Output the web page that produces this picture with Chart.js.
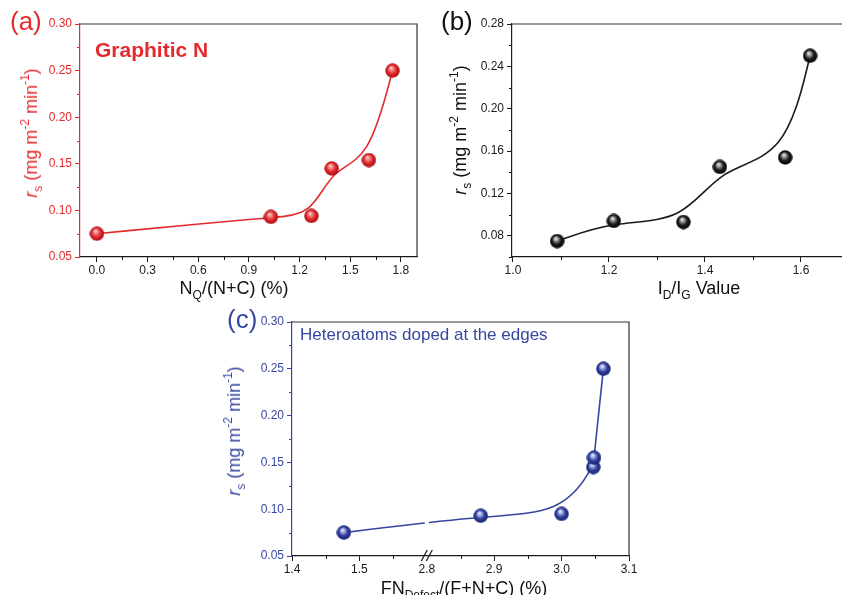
<!DOCTYPE html>
<html>
<head>
<meta charset="utf-8">
<script src="https://cdn.jsdelivr.net/npm/chart.js@4.4.1/dist/chart.umd.min.js"></script>
<style>
    body { margin: 0; width: 842px; height: 595px; overflow: hidden; background: #fff; position: relative;
           font-family: "Liberation Sans", Arial, sans-serif; }
    canvas { position: absolute; }
    .txt { position: absolute; white-space: nowrap; }
    .ytit { position: absolute; white-space: nowrap; font-size: 18px; line-height: 20px;
            transform: translate(-50%, -50%) rotate(-90deg); }
    .xtit { position: absolute; white-space: nowrap; font-size: 18px; line-height: 20px;
            transform: translateX(-50%); color: #111; }
    .sb { font-size: 12px; position: relative; top: 5px; }
    .sp { font-size: 12px; position: relative; top: -8px; }
</style>
</head>
<body>
<canvas id="graficaA" width="420" height="300" style="left:0;top:0"></canvas>
<canvas id="graficaB" width="440" height="300" style="left:420px;top:0"></canvas>
<canvas id="graficaC" width="420" height="295" style="left:220px;top:300px"></canvas>

<div class="txt" style="left:10px;top:8px;font-size:26px;line-height:26px;color:#e42a2d">(a)</div>
<div class="txt" style="left:441px;top:8px;font-size:26px;line-height:26px;color:#111">(b)</div>
<div class="txt" style="left:227px;top:306px;font-size:26px;line-height:26px;color:#3747a0">(c)</div>

<div class="txt" style="left:95px;top:40px;font-size:21px;line-height:20px;font-weight:bold;color:#e42a2d">Graphitic N</div>
<div class="txt" style="left:300px;top:326px;font-size:17px;line-height:17px;color:#3747a0">Heteroatoms doped at the edges</div>

<div class="ytit" style="left:32px;top:133px;color:#e42a2d"><i>r</i><span class="sb">s</span> (mg m<span class="sp">-2</span> min<span class="sp">-1</span>)</div>
<div class="ytit" style="left:461px;top:130px;color:#111"><i>r</i><span class="sb">s</span> (mg m<span class="sp">-2</span> min<span class="sp">-1</span>)</div>
<div class="ytit" style="left:235px;top:431px;color:#3747a0"><i>r</i><span class="sb">s</span> (mg m<span class="sp">-2</span> min<span class="sp">-1</span>)</div>

<div class="xtit" style="left:234px;top:278px">N<span class="sb">Q</span>/(N+C) (%)</div>
<div class="xtit" style="left:699px;top:278px">I<span class="sb">D</span>/I<span class="sb">G</span> Value</div>
<div class="xtit" style="left:464px;top:578px">FN<span class="sb">Defect</span>/(F+N+C) (%)</div>

<script>
// Datos: velocidad r_s frente a cada descriptor estructural
const nitrogenoQ = [0.0, 1.03, 1.27, 1.39, 1.61, 1.75];
const rsA = [0.075, 0.093, 0.094, 0.145, 0.154, 0.25];

const relacionIdIg = [1.092, 1.21, 1.355, 1.431, 1.567, 1.619];
const rsB = [0.075, 0.094, 0.093, 0.145, 0.154, 0.25];

const fnDefecto = [1.477, 2.88, 3.0, 3.047, 3.048, 3.062];
const rsC = [0.075, 0.093, 0.095, 0.145, 0.155, 0.25];

// Marcas de los ejes
const ticksXA = [0.0, 0.3, 0.6, 0.9, 1.2, 1.5, 1.8];
const menoresXA = [0.15, 0.45, 0.75, 1.05, 1.35, 1.65];
const ticksYA = [0.05, 0.10, 0.15, 0.20, 0.25, 0.30];
const menoresYA = [0.075, 0.125, 0.175, 0.225, 0.275];

const ticksXB = [1.0, 1.2, 1.4, 1.6];
const menoresXB = [1.1, 1.3, 1.5];
const ticksYB = [0.08, 0.12, 0.16, 0.20, 0.24, 0.28];
const menoresYB = [0.06, 0.10, 0.14, 0.18, 0.22, 0.26];

const ticksXC = [1.4, 1.5, 2.8, 2.9, 3.0, 3.1];
const menoresXC = [1.45, 1.55, 2.85, 2.95, 3.05];
const ticksYC = ticksYA;
const menoresYC = menoresYA;

// Eje roto en (c): se quita el tramo 1.6 - 2.8
const corteBajo = 1.6;
const corteAlto = 2.8;
function aEjeRoto(x) {
    return x > corteBajo + 0.01 ? x - (corteAlto - corteBajo) : x;
}

const ROJO = '#e42a2d';
const AZUL = '#3747a0';
const NEGRO = '#1a1a1a';
const FUENTE = '"Liberation Sans", Arial, sans-serif';

// Esfera con brillo para los puntos
function crearEsfera(base, brillo, borde, diametro = 15) {
    const c = document.createElement('canvas');
    c.width = diametro;
    c.height = diametro;
    const g = c.getContext('2d');
    const r = diametro / 2;
    const grad = g.createRadialGradient(r - r * 0.2, r - r * 0.38, 0, r, r, r);
    grad.addColorStop(0, '#ffffff');
    grad.addColorStop(0.18, brillo);
    grad.addColorStop(0.6, base);
    grad.addColorStop(1, borde);
    g.fillStyle = grad;
    g.beginPath();
    g.arc(r, r, r - 0.3, 0, Math.PI * 2);
    g.fill();
    return c;
}

// Curva B-spline cúbica usando los puntos del dataset como puntos de control
const bspline = {
    id: 'bspline',
    beforeDatasetsDraw(chart, args, opts) {
        const { ctx, chartArea: a } = chart;
        const ds = chart.data.datasets[0];
        const p = chart.getDatasetMeta(0).data.map(e => ({ x: e.x, y: e.y }));
        const ult = p[p.length - 1];
        const q = [p[0], p[0], ...p, ult, ult];
        ctx.save();
        ctx.beginPath();
        ctx.rect(a.left, a.top, a.width, a.height);
        ctx.clip();
        ctx.strokeStyle = ds.borderColor;
        ctx.lineWidth = ds.borderWidth;
        ctx.lineJoin = 'round';
        ctx.beginPath();
        for (let i = 0; i + 3 < q.length; i++) {
            const [b0, b1, b2, b3] = q.slice(i, i + 4);
            if (i === 0) ctx.moveTo((b0.x + 4 * b1.x + b2.x) / 6, (b0.y + 4 * b1.y + b2.y) / 6);
            ctx.bezierCurveTo(
                (2 * b1.x + b2.x) / 3, (2 * b1.y + b2.y) / 3,
                (b1.x + 2 * b2.x) / 3, (b1.y + 2 * b2.y) / 3,
                (b1.x + 4 * b2.x + b3.x) / 6, (b1.y + 4 * b2.y + b3.y) / 6
            );
        }
        ctx.stroke();
        // hueco de la línea en el corte del eje
        if (opts.corte !== undefined) {
            const { x, y } = chart.scales;
            const px = x.getPixelForValue(opts.corte);
            const y1 = y.getPixelForValue(0.10), y2 = y.getPixelForValue(0.07);
            ctx.fillStyle = '#fff';
            ctx.fillRect(px - 2, y1, 4, y2 - y1);
        }
        ctx.restore();
    }
};

// Marco superior/derecho, marcas menores y símbolo de corte
const marco = {
    id: 'marco',
    afterDraw(chart, args, opts) {
        const { ctx, chartArea: a, scales: { x, y } } = chart;
        ctx.save();
        ctx.lineWidth = 1.2;
        ctx.strokeStyle = '#333';
        ctx.beginPath();
        ctx.moveTo(a.left, a.top);
        ctx.lineTo(a.right, a.top);
        ctx.lineTo(a.right, a.bottom);
        ctx.stroke();

        ctx.lineWidth = 1;
        ctx.strokeStyle = opts.colorX;
        opts.menoresX.forEach(v => {
            const p = Math.round(x.getPixelForValue(v)) + 0.5;
            ctx.beginPath();
            ctx.moveTo(p, a.bottom);
            ctx.lineTo(p, a.bottom + 3);
            ctx.stroke();
        });
        ctx.strokeStyle = opts.colorY;
        opts.menoresY.forEach(v => {
            const p = Math.round(y.getPixelForValue(v)) + 0.5;
            ctx.beginPath();
            ctx.moveTo(a.left, p);
            ctx.lineTo(a.left - 3, p);
            ctx.stroke();
        });

        if (opts.corte !== undefined) {
            const px = x.getPixelForValue(opts.corte);
            ctx.strokeStyle = opts.colorX;
            ctx.lineWidth = 1.2;
            [-2.5, 2.5].forEach(d => {
                ctx.beginPath();
                ctx.moveTo(px + d - 3, a.bottom + 5);
                ctx.lineTo(px + d + 3, a.bottom - 6);
                ctx.stroke();
            });
        }
        ctx.restore();
    }
};

// Función para crear cada gráfica
function crearGrafica(id, cfg) {
    const aEje = cfg.aEje || (v => v);
    const ctx = document.getElementById(id).getContext('2d');
    return new Chart(ctx, {
        type: 'scatter',
        data: {
            datasets: [{
                data: cfg.xs.map((x, i) => ({ x: aEje(x), y: cfg.ys[i] })),
                showLine: false,
                borderColor: cfg.color,
                borderWidth: 1.6,
                pointStyle: cfg.esfera,
                pointRadius: 7,
                pointHoverRadius: 7
            }]
        },
        options: {
            responsive: false,
            animation: false,
            events: [],
            layout: { padding: cfg.padding, autoPadding: false },
            plugins: {
                legend: { display: false },
                tooltip: { enabled: false },
                bspline: { corte: cfg.corte },
                marco: {
                    menoresX: cfg.menoresX.map(aEje),
                    menoresY: cfg.menoresY,
                    colorX: NEGRO,
                    colorY: cfg.colorY,
                    corte: cfg.corte
                }
            },
            scales: {
                x: {
                    type: 'linear',
                    min: cfg.xMin,
                    max: cfg.xMax,
                    afterBuildTicks: s => { s.ticks = cfg.ticksX.map(v => ({ value: aEje(v) })); },
                    afterFit: s => { s.height = cfg.altoX; s.paddingLeft = 0; s.paddingRight = 0; },
                    border: { display: true, color: NEGRO, width: 1.2 },
                    grid: {
                        display: true,
                        drawOnChartArea: false,
                        drawTicks: true,
                        tickLength: 5,
                        tickWidth: 1,
                        tickColor: c => (cfg.corte !== undefined && c.tick && Math.abs(c.tick.value - cfg.corte) < 1e-6) ? 'rgba(0,0,0,0)' : NEGRO
                    },
                    ticks: {
                        color: NEGRO,
                        padding: 1,
                        maxRotation: 0,
                        autoSkip: false,
                        font: { family: FUENTE, size: 12 },
                        callback: (v, i) => cfg.ticksX[i].toFixed(1)
                    }
                },
                y: {
                    type: 'linear',
                    min: cfg.yMin,
                    max: cfg.yMax,
                    afterBuildTicks: s => { s.ticks = cfg.ticksY.map(v => ({ value: v })); },
                    afterFit: s => { s.width = cfg.anchoY; s.paddingTop = 0; s.paddingBottom = 0; },
                    border: { display: true, color: cfg.colorY, width: 1.2 },
                    grid: {
                        display: true,
                        drawOnChartArea: false,
                        drawTicks: true,
                        tickLength: 5,
                        tickWidth: 1,
                        tickColor: cfg.colorY
                    },
                    ticks: {
                        color: cfg.colorY,
                        padding: 3,
                        autoSkip: false,
                        font: { family: FUENTE, size: 12 },
                        callback: (v, i) => cfg.ticksY[i].toFixed(2)
                    }
                }
            }
        },
        plugins: [bspline, marco]
    });
}

document.addEventListener('DOMContentLoaded', () => {
    crearGrafica('graficaA', {
        xs: nitrogenoQ, ys: rsA,
        xMin: -0.1, xMax: 1.895, yMin: 0.05, yMax: 0.30,
        ticksX: ticksXA, menoresX: menoresXA, ticksY: ticksYA, menoresY: menoresYA,
        color: ROJO, colorY: ROJO,
        esfera: crearEsfera('#e3262a', '#f7a0a0', '#9c0f14'),
        padding: { left: 0, top: 24, right: 3, bottom: 0 },
        anchoY: 80, altoX: 43
    });
    crearGrafica('graficaB', {
        xs: relacionIdIg, ys: rsB,
        xMin: 0.998, xMax: 1.7, yMin: 0.06, yMax: 0.28,
        ticksX: ticksXB, menoresX: menoresXB, ticksY: ticksYB, menoresY: menoresYB,
        color: NEGRO, colorY: NEGRO,
        esfera: crearEsfera('#1c1c1c', '#bdbdbd', '#000000'),
        padding: { left: 0, top: 24, right: 11, bottom: 0 },
        anchoY: 92, altoX: 43
    });
    crearGrafica('graficaC', {
        xs: fnDefecto, ys: rsC, aEje: aEjeRoto, corte: corteBajo,
        xMin: 1.4, xMax: 1.9, yMin: 0.05, yMax: 0.30,
        ticksX: ticksXC, menoresX: menoresXC, ticksY: ticksYC, menoresY: menoresYC,
        color: AZUL, colorY: AZUL,
        esfera: crearEsfera('#2d3d9c', '#c2c8f0', '#16206a'),
        padding: { left: 0, top: 22, right: 11, bottom: 0 },
        anchoY: 72, altoX: 39
    });
});
</script>
</body>
</html>
